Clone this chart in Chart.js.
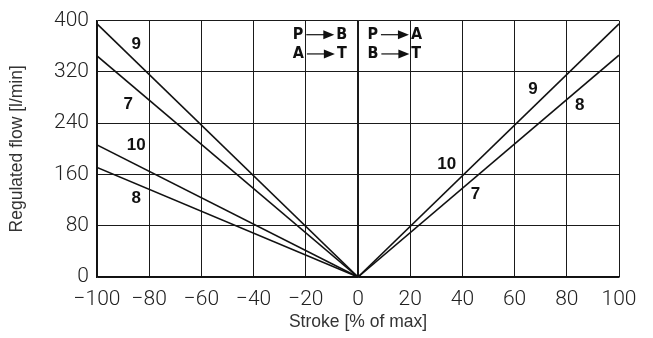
<!DOCTYPE html>
<html>
<head>
<meta charset="utf-8">
<script src="https://cdn.jsdelivr.net/npm/chart.js@4"></script>
<style>
  html, body { margin: 0; padding: 0; background: #fff; }
  #wrap { width: 653px; height: 338px; }
</style>
</head>
<body>
<div id="wrap"><canvas id="flowChart" width="653" height="338"></canvas></div>
<script>
// stroke (%) and regulated flow (l/min) for each spool curve
const strokeLeft = [-100, 0];
const strokeRight = [0, 100];
const flow9Left = [395, 0];
const flow7Left = [345, 0];
const flow10Left = [206, 0];
const flow8Left = [171, 0];
const flow9Right = [0, 395];
const flow8Right = [0, 346];

const xTicks = [-100, -80, -60, -40, -20, 0, 20, 40, 60, 80, 100];
const yTicks = [0, 80, 160, 240, 320, 400];

// curve numbers, placed in data coordinates
const curveLabels = [
    { text: "9", x: -85, y: 363 },
    { text: "7", x: -88, y: 270 },
    { text: "10", x: -85, y: 205 },
    { text: "8", x: -85, y: 123 },
    { text: "9", x: 67, y: 293 },
    { text: "8", x: 85, y: 268 },
    { text: "10", x: 34, y: 176 },
    { text: "7", x: 45, y: 129 }
];

// flow direction notes: [from, to] rows
const directionNotes = [
    { x: -25, rows: [["P", "B"], ["A", "T"]] },
    { x: 3.6, rows: [["P", "A"], ["B", "T"]] }
];
const noteRowY = [378, 348];

function toPoints(xs, ys) {
    return xs.map((x, i) => ({ x: x, y: ys[i] }));
}

function lineSet(xs, ys) {
    return {
        data: toPoints(xs, ys),
        borderColor: "#111",
        borderWidth: 1.6,
        pointRadius: 0,
        fill: false,
        tension: 0
    };
}

// draws curve numbers and the P->B / P->A notes
const annotations = {
    id: "annotations",
    afterDatasetsDraw(chart) {
        const ctx = chart.ctx;
        const xs = chart.scales.x;
        const ys = chart.scales.y;
        ctx.save();
        ctx.fillStyle = "#111";
        ctx.font = "bold 17px 'Liberation Sans', Arial, sans-serif";
        ctx.textAlign = "center";
        ctx.textBaseline = "middle";
        curveLabels.forEach(l => {
            ctx.fillText(l.text, xs.getPixelForValue(l.x), ys.getPixelForValue(l.y));
        });

        ctx.font = "bold 16px 'DejaVu Sans Condensed', sans-serif";
        ctx.textAlign = "left";
        directionNotes.forEach(n => {
            const left = xs.getPixelForValue(n.x);
            n.rows.forEach((r, i) => {
                const py = ys.getPixelForValue(noteRowY[i]);
                ctx.fillText(r[0], left, py);
                const a0 = left + ctx.measureText(r[0]).width + 3;
                const a1 = a0 + 28;
                ctx.strokeStyle = "#111";
                ctx.lineWidth = 1.2;
                ctx.beginPath();
                ctx.moveTo(a0, py);
                ctx.lineTo(a1 - 9, py);
                ctx.stroke();
                ctx.beginPath();
                ctx.moveTo(a1 - 11, py - 4.5);
                ctx.lineTo(a1, py);
                ctx.lineTo(a1 - 11, py + 4.5);
                ctx.closePath();
                ctx.fill();
                ctx.fillText(r[1], a1 + 2, py);
            });
        });
        ctx.restore();
    }
};

const tickFont = { family: "Roboto, 'DejaVu Sans', sans-serif", size: 21, weight: 300 };
const titleFont = { family: "'Liberation Sans', Arial, sans-serif", size: 17.5 };

new Chart(document.getElementById("flowChart"), {
    type: "line",
    data: {
        datasets: [
            lineSet(strokeLeft, flow9Left),
            lineSet(strokeLeft, flow7Left),
            lineSet(strokeLeft, flow10Left),
            lineSet(strokeLeft, flow8Left),
            lineSet(strokeRight, flow9Right),
            lineSet(strokeRight, flow8Right)
        ]
    },
    options: {
        responsive: false,
        animation: false,
        layout: { padding: { top: 16, right: 34, left: 0, bottom: 0 } },
        plugins: {
            legend: { display: false },
            tooltip: { enabled: false }
        },
        scales: {
            x: {
                type: "linear",
                min: -100,
                max: 100,
                afterBuildTicks: s => { s.ticks = xTicks.map(v => ({ value: v })); },
                afterFit: s => { s.height = 61; },
                ticks: {
                    color: "#222",
                    font: tickFont,
                    padding: 10,
                    autoSkip: false,
                    maxRotation: 0,
                    callback: v => String(v).replace("-", "\u2212")
                },
                grid: {
                    color: "#1a1a1a",
                    lineWidth: c => (c.tick && c.tick.value === 0 ? 2 : 1),
                    drawTicks: false
                },
                border: { color: "#111", width: 1.5 },
                title: {
                    display: true,
                    text: "Stroke [% of max]",
                    color: "#333",
                    font: titleFont,
                    padding: { top: 0, bottom: 5 }
                }
            },
            y: {
                type: "linear",
                min: 0,
                max: 400,
                afterBuildTicks: s => { s.ticks = yTicks.map(v => ({ value: v })); },
                afterFit: s => { s.width = 97; },
                ticks: {
                    color: "#222",
                    font: tickFont,
                    padding: 8,
                    autoSkip: false
                },
                grid: {
                    color: "#1a1a1a",
                    lineWidth: 1,
                    drawTicks: false
                },
                border: { color: "#111", width: 1.5 },
                title: {
                    display: true,
                    text: "Regulated flow [l/min]",
                    color: "#333",
                    font: titleFont,
                    padding: { top: 7, bottom: 0 }
                }
            }
        }
    },
    plugins: [annotations]
});
</script>
</body>
</html>
